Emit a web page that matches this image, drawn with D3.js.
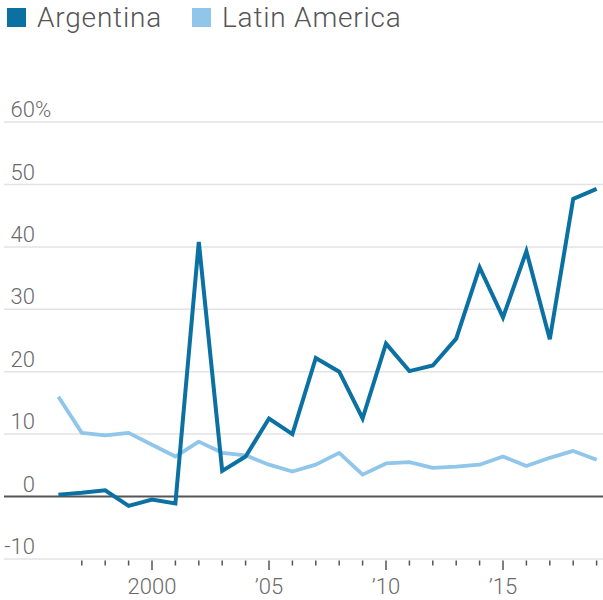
<!DOCTYPE html>
<html>
<head>
<meta charset="utf-8">
<script src="https://cdn.jsdelivr.net/npm/d3@7"></script>
<style>
  html, body { margin: 0; padding: 0; background: #fff; }
  svg { display: block; font-family: Roboto, "Noto Sans", sans-serif; }
</style>
</head>
<body>
<svg id="chart" width="603" height="600"></svg>
<script>
// Annual inflation, per cent
const years = d3.range(1996, 2020);
const argentina = [0.3, 0.6, 1.0, -1.5, -0.5, -1.1, 40.8, 4.1, 6.4, 12.5, 10.0, 22.2,
                   20.0, 12.5, 24.5, 20.1, 21.0, 25.3, 36.7, 28.7, 39.3, 25.2, 47.7, 49.3];
const latinAmerica = [16.0, 10.2, 9.8, 10.2, 8.3, 6.4, 8.8, 7.0, 6.6, 5.1, 4.0, 5.1,
                      7.0, 3.5, 5.3, 5.5, 4.6, 4.8, 5.1, 6.4, 4.9, 6.2, 7.3, 5.9];
const yTicks = [-10, 0, 10, 20, 30, 40, 50, 60];
const xTickYears = d3.range(1997, 2020);
const xLabels = [[2000, "2000"], [2005, "\u201905"], [2010, "\u201910"], [2015, "\u201915"]];
const seriesNames = ["Argentina", "Latin America"];
const seriesColors = ["#0b70a2", "#8fc6e9"];

const svg = d3.select("#chart");

const x = d3.scaleLinear().domain([1996, 2019]).range([58.4, 596.6]);
const y = d3.scaleLinear().domain([-10, 60]).range([558.9, 122.1]);

// Horizontal gridlines
svg.append("g")
  .selectAll("line")
  .data(yTicks.filter(v => v !== 0))
  .join("line")
  .attr("x1", 4).attr("x2", 603)
  .attr("y1", d => y(d)).attr("y2", d => y(d))
  .attr("stroke", "#e3e3e3")
  .attr("stroke-width", 1.5);

// Y labels: numbers right-aligned, percent sign hanging after the top one
const yl = svg.append("g")
  .attr("font-size", 22)
  .attr("fill", "#6a6a6a")
  .attr("font-weight", 300);
yl.selectAll("text.num")
  .data(yTicks)
  .join("text")
  .attr("class", "num")
  .attr("x", 35)
  .attr("y", d => y(d) - 5)
  .attr("text-anchor", "end")
  .text(d => d);
yl.append("text")
  .attr("x", 35)
  .attr("y", y(60) - 5)
  .text("%");

// X axis ticks below the lowest gridline
const xg = svg.append("g");
xg.selectAll("line")
  .data(xTickYears)
  .join("line")
  .attr("x1", d => x(d)).attr("x2", d => x(d))
  .attr("y1", 560.5)
  .attr("y2", d => d % 5 === 0 ? 570 : 565.5)
  .attr("stroke", "#555")
  .attr("stroke-width", 1.5);
xg.selectAll("text")
  .data(xLabels)
  .join("text")
  .attr("x", d => x(d[0]))
  .attr("y", 594)
  .attr("text-anchor", "middle")
  .attr("font-size", 22)
  .attr("font-weight", 300)
  .attr("fill", "#6a6a6a")
  .text(d => d[1]);

// Series lines
const line = d3.line()
  .x((d, i) => x(years[i]))
  .y(d => y(d));

svg.append("path")
  .datum(latinAmerica)
  .attr("d", line)
  .attr("fill", "none")
  .attr("stroke", seriesColors[1])
  .attr("stroke-width", 3.8)
  .attr("stroke-linejoin", "round");

// Zero baseline
svg.append("line")
  .attr("x1", 4).attr("x2", 603)
  .attr("y1", y(0)).attr("y2", y(0))
  .attr("stroke", "#555")
  .attr("stroke-width", 2);

svg.append("path")
  .datum(argentina)
  .attr("d", line)
  .attr("fill", "none")
  .attr("stroke", seriesColors[0])
  .attr("stroke-width", 4)
  .attr("stroke-linejoin", "miter");

// Legend
const legendX = [7, 192];
const lg = svg.append("g").selectAll("g")
  .data(seriesNames)
  .join("g")
  .attr("transform", (d, i) => `translate(${legendX[i]},0)`);
lg.append("rect")
  .attr("x", 0).attr("y", 8)
  .attr("width", 19).attr("height", 19)
  .attr("fill", (d, i) => seriesColors[i]);
lg.append("text")
  .attr("x", 30)
  .attr("y", 27)
  .attr("font-size", 28)
  .attr("font-weight", 300)
  .attr("letter-spacing", 0.8)
  .attr("fill", "#555")
  .text(d => d);
</script>
</body>
</html>
